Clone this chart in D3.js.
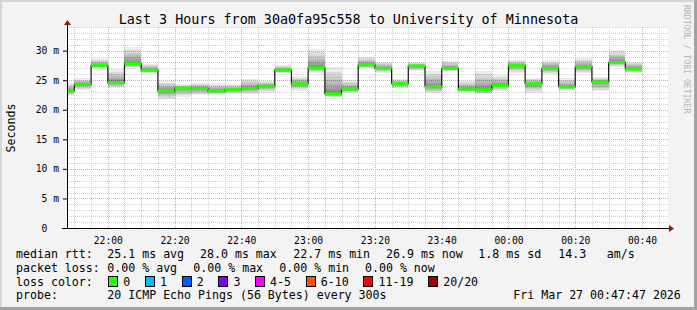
<!DOCTYPE html>
<html>
<head>
<meta charset="utf-8">
<script src="https://cdn.jsdelivr.net/npm/d3@7"></script>
<style>
  body { margin: 0; background: #f3f3f3; }
  svg { display: block; }
  text { font-family: "DejaVu Sans Mono", monospace; fill: #000; white-space: pre; }
</style>
</head>
<body>
<script>
// median rtt per 5 minute step (ms), first step starts 21:45
const medianRtt = [23.2, 24.3, 27.5, 24.6, 27.8, 26.7, 23.2, 23.7, 23.6, 23.2, 23.4, 23.6,
  24.0, 26.7, 24.4, 27.1, 22.7, 23.5, 27.6, 27.0, 24.4, 27.4, 23.9, 27.0, 23.5, 23.4,
  24.1, 27.5, 24.4, 27.0, 23.9, 27.3, 24.7, 28.0, 26.9];
// smoke extent: lowest and highest ping of each step (ms)
const smokeLo = [22.3, 23.4, 27.0, 23.6, 27.0, 26.1, 21.8, 22.2, 22.5, 22.5, 22.7, 22.7,
  22.9, 26.2, 23.2, 26.2, 22.1, 22.8, 27.0, 26.3, 23.6, 26.6, 22.8, 26.5, 23.0, 22.6,
  23.2, 26.2, 22.9, 26.1, 23.2, 26.2, 23.1, 27.3, 26.2];
const smokeHi = [24.6, 25.3, 28.7, 26.9, 30.7, 27.8, 24.9, 24.3, 24.6, 24.5, 24.3, 25.2,
  24.9, 27.6, 25.7, 30.3, 27.3, 25.0, 29.0, 28.1, 25.2, 28.0, 26.6, 28.3, 24.9, 26.6,
  25.9, 28.4, 25.3, 28.4, 25.3, 28.7, 25.5, 30.1, 28.1];

const yTicks = [0, 5, 10, 15, 20, 25, 30];
const rttStats = ["median rtt:", "25.1 ms avg", "28.0 ms max", "22.7 ms min", "26.9 ms now", "1.8 ms sd", "14.3", "am/s"];
const lossStats = ["packet loss:", "0.00 % avg", "0.00 % max", "0.00 % min", "0.00 % now"];
const lossLabels = ["0", "1", "2", "3", "4-5", "6-10", "11-19", "20/20"];
const lossColors = ["#26ff00", "#00b8ff", "#0059ff", "#7e00ff", "#ff00ff", "#ff5500", "#ff0000", "#a10000"];
const probeText = "20 ICMP Echo Pings (56 Bytes) every 300s";
const stampText = "Fri Mar 27 00:47:47 2026";
const title = "Last 3 Hours from 30a0fa95c558 to University of Minnesota";

const W = 697, H = 310;
const plot = { left: 67, right: 668, top: 27, bottom: 228 };

const tStart = new Date(2026, 2, 26, 21, 47, 47);
const tEnd = new Date(2026, 2, 27, 0, 47, 47);
const firstStep = new Date(2026, 2, 26, 21, 45, 0);
const stepStart = (i) => d3.timeMinute.offset(firstStep, 5 * i);

const x = d3.scaleTime().domain([tStart, tEnd]).range([plot.left, plot.right]);
const y = d3.scaleLinear().domain([0, 34]).range([plot.bottom, plot.top]);

const svg = d3.select("body").append("svg").attr("width", W).attr("height", H);

// frame
svg.append("rect").attr("width", W).attr("height", H).attr("fill", "#f3f3f3");
svg.append("path").attr("d", `M1,${H} V1 H${W}`).attr("stroke", "#d6d6d6").attr("stroke-width", 2).attr("fill", "none");
svg.append("path").attr("d", `M0,${H - 1.5} H${W - 1.5} V0`).attr("stroke", "#a2a2a2").attr("stroke-width", 3).attr("fill", "none");

svg.append("rect")
  .attr("x", plot.left).attr("y", plot.top)
  .attr("width", plot.right - plot.left).attr("height", plot.bottom - plot.top)
  .attr("fill", "#fff");

// grid
const grid = svg.append("g").attr("shape-rendering", "crispEdges");
const minorY = d3.range(1, 35).filter((d) => d % 5 !== 0);
const majorY = d3.range(5, 35, 5);
grid.selectAll(".hmin").data(minorY).join("line")
  .attr("x1", plot.left).attr("x2", plot.right)
  .attr("y1", (d) => Math.round(y(d)) + 0.5).attr("y2", (d) => Math.round(y(d)) + 0.5)
  .attr("stroke", "#cfcfcf").attr("stroke-dasharray", "1,1");
const minorX = d3.timeMinute.every(5).range(tStart, tEnd).filter((d) => d.getMinutes() % 20 !== 0);
const majorX = d3.timeMinute.every(20).range(tStart, tEnd);
grid.selectAll(".vmin").data(minorX).join("line")
  .attr("x1", (d) => Math.round(x(d)) + 0.5).attr("x2", (d) => Math.round(x(d)) + 0.5)
  .attr("y1", plot.top).attr("y2", plot.bottom)
  .attr("stroke", "#cfcfcf").attr("stroke-dasharray", "1,1");
grid.selectAll(".hmaj").data(majorY).join("line")
  .attr("x1", plot.left).attr("x2", plot.right)
  .attr("y1", (d) => Math.round(y(d)) + 0.5).attr("y2", (d) => Math.round(y(d)) + 0.5)
  .attr("stroke", "#f2a0a0").attr("stroke-dasharray", "1,1");
grid.selectAll(".vmaj").data(majorX).join("line")
  .attr("x1", (d) => Math.round(x(d)) + 0.5).attr("x2", (d) => Math.round(x(d)) + 0.5)
  .attr("y1", plot.top).attr("y2", plot.bottom)
  .attr("stroke", "#f2a0a0").attr("stroke-dasharray", "1,1");

// data, clipped to the plot
svg.append("clipPath").attr("id", "clip").append("rect")
  .attr("x", plot.left + 1).attr("y", plot.top)
  .attr("width", plot.right - plot.left).attr("height", plot.bottom - plot.top);
const data = svg.append("g").attr("clip-path", "url(#clip)");

const steps = medianRtt.map((m, i) => ({ t0: stepStart(i), t1: stepStart(i + 1), med: m, lo: smokeLo[i], hi: smokeHi[i] }));

// smoke: nested layers, narrower (and darker) towards the median
const layers = d3.range(10);
const smoke = data.append("g").attr("shape-rendering", "crispEdges");
steps.forEach((s) => {
  smoke.selectAll(null).data(layers).join("rect")
    .attr("x", x(s.t0)).attr("width", x(s.t1) - x(s.t0))
    .attr("y", (k) => y(s.med + (s.hi - s.med) * Math.pow(1 - k / 10, 2)))
    .attr("height", (k) => y(s.med - (s.med - s.lo) * Math.pow(1 - k / 10, 2)) - y(s.med + (s.hi - s.med) * Math.pow(1 - k / 10, 2)))
    .attr("fill", "#000").attr("fill-opacity", 0.075);
});

const stepPts = steps.map((s) => [s.t0, s.med]);
stepPts.push([steps[steps.length - 1].t1, steps[steps.length - 1].med]);
data.append("path")
  .datum(stepPts)
  .attr("fill", "none").attr("stroke", "#1a1a1a").attr("stroke-width", 1.2)
  .attr("d", d3.line().x((d) => x(d[0])).y((d) => y(d[1])).curve(d3.curveStepAfter));

data.selectAll(".med").data(steps).join("line")
  .attr("x1", (d) => x(d.t0)).attr("x2", (d) => x(d.t1))
  .attr("y1", (d) => y(d.med)).attr("y2", (d) => y(d.med))
  .attr("stroke", lossColors[0]).attr("stroke-width", 3);

// axes
const yAxis = d3.axisLeft(y).tickValues(yTicks).tickSize(4).tickPadding(4)
  .tickFormat((d) => (d === 0 ? "0  " : d + " m"));
const gy = svg.append("g").attr("transform", `translate(${plot.left},0)`).call(yAxis);
gy.select(".domain").remove();
gy.selectAll("line").attr("stroke", "#000");
gy.selectAll("text").attr("font-family", "DejaVu Sans Mono").attr("font-size", 9.7);

const xAxis = d3.axisBottom(x).ticks(d3.timeMinute.every(20)).tickSize(0).tickPadding(9)
  .tickFormat(d3.timeFormat("%H:%M"));
const gx = svg.append("g").attr("transform", `translate(0,${plot.bottom})`).call(xAxis);
gx.select(".domain").remove();
gx.selectAll("text").attr("font-family", "DejaVu Sans Mono").attr("font-size", 9.7);

svg.append("line").attr("x1", plot.left - 5).attr("x2", plot.right + 2)
  .attr("y1", plot.bottom + 0.5).attr("y2", plot.bottom + 0.5).attr("stroke", "#000");
svg.append("line").attr("x1", plot.left + 0.5).attr("x2", plot.left + 0.5)
  .attr("y1", plot.bottom + 1).attr("y2", plot.top - 3).attr("stroke", "#000");
svg.append("path").attr("d", `M${plot.right + 1},${plot.bottom - 3} l5,3.5 l-5,3.5 z`).attr("fill", "#8b1a1a");
svg.append("path").attr("d", `M${plot.left - 3},${plot.top - 2} l3.5,-5 l3.5,5 z`).attr("fill", "#8b1a1a");

// texts
svg.append("text").attr("x", W / 2).attr("y", 23.5).attr("text-anchor", "middle")
  .attr("font-size", 13.4).text(title);
svg.append("text").attr("transform", "translate(14.5,128) rotate(-90)").attr("text-anchor", "middle")
  .attr("font-size", 11.6).text("Seconds");
svg.append("text").attr("transform", "translate(684,5) rotate(90)")
  .attr("font-size", 8.2).style("fill", "#b4b4b4").text("RRDTOOL / TOBI OETIKER");

const legend = svg.append("g").attr("font-size", 11.6);
const rttX = [16, 107.3, 200, 293.3, 386, 478.3, 558.3, 606.7];
legend.selectAll(".rtt").data(rttStats).join("text")
  .attr("x", (d, i) => rttX[i]).attr("y", 258).text((d) => d);
const lossX = [16, 107.3, 193.3, 279.3, 365];
legend.selectAll(".loss").data(lossStats).join("text")
  .attr("x", (d, i) => lossX[i]).attr("y", 271.8).text((d) => d);
legend.append("text").attr("x", 16).attr("y", 285.6).text("loss color:");
let bx = 108.3;
lossLabels.forEach((lab, i) => {
  legend.append("rect").attr("x", Math.round(bx) + 0.5).attr("y", 276.5).attr("width", 9).attr("height", 10)
    .attr("fill", lossColors[i]).attr("stroke", "#000");
  legend.append("text").attr("x", bx + 15).attr("y", 285.6).text(lab);
  bx += 29.7 + 7 * lab.length;
});
legend.append("text").attr("x", 16).attr("y", 299.4).text("probe:");
legend.append("text").attr("x", 107.3).attr("y", 299.4).text(probeText);
legend.append("text").attr("x", 513.3).attr("y", 299.4).text(stampText);
</script>
</body>
</html>
